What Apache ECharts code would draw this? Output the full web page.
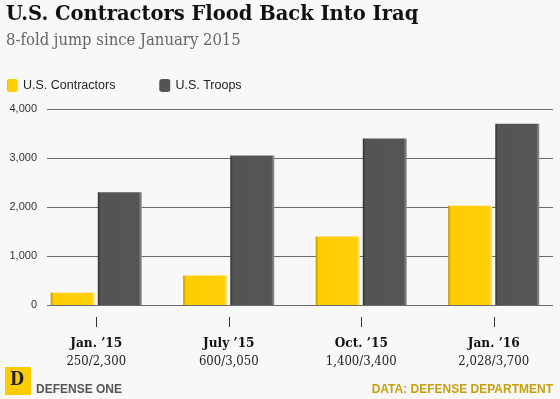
<!DOCTYPE html>
<html><head><meta charset="utf-8">
<script src="https://cdn.jsdelivr.net/npm/echarts@6/dist/echarts.min.js"></script>
<style>html,body{margin:0;padding:0;background:#f8f8f8}#c{width:560px;height:399px}</style>
</head><body><div id="c"></div>
<script>
const categories = ["Jan. ’15", "July ’15", "Oct. ’15", "Jan. ’16"];
const contractors = [250, 600, 1400, 2028];
const troops = [2300, 3050, 3400, 3700];
const pairLabels = ["250/2,300", "600/3,050", "1,400/3,400", "2,028/3,700"];
const yTicks = [0, 1000, 2000, 3000, 4000];

const serif = '"DejaVu Serif Condensed","DejaVu Serif",serif';
const serifWide = '"DejaVu Serif",serif';
const sans = '"Liberation Sans",Arial,sans-serif';
const chart = echarts.init(document.getElementById('c'), null, {renderer:'canvas'});
const yellowGrad = new echarts.graphic.LinearGradient(0,0,1,0,[
  {offset:0,color:'#b89200'},{offset:0.06,color:'#ffcc00'},{offset:0.93,color:'#ffcf0a'},{offset:1,color:'#ffe98a'}]);
const grayGrad = new echarts.graphic.LinearGradient(0,0,1,0,[
  {offset:0,color:'#2e2e2e'},{offset:0.06,color:'#545454'},{offset:0.93,color:'#555555'},{offset:1,color:'#9a9a9a'}]);
const fmt = v => v.toLocaleString('en-US');

chart.setOption({
  backgroundColor:'#f8f8f8',
  animation:false,
  title:{
    text:'U.S. Contractors Flood Back Into Iraq',
    subtext:'8-fold jump since January 2015',
    left:1, top:0, itemGap:7,
    textStyle:{fontFamily:serifWide, fontWeight:'bold', fontSize:19.5, color:'#111'},
    subtextStyle:{fontFamily:serif, fontSize:16.5, color:'#666'}
  },
  legend:{
    left:2, top:74, itemWidth:11, itemHeight:13, itemGap:44,
    data:[{name:'U.S. Contractors', itemStyle:{color:yellowGrad}}, {name:'U.S. Troops', itemStyle:{color:grayGrad}}],
    textStyle:{fontFamily:sans, fontSize:12.5, color:'#222'}
  },
  grid:[
    {left:47, right:7, top:109, height:196},
    {left:30, width:539, top:109, height:196}
  ],
  xAxis:[
    {gridIndex:0, type:'category', data:categories, show:false},
    {gridIndex:1, type:'category', data:categories, offset:12,
     axisLine:{show:false},
     axisTick:{show:false},
     axisLabel:{margin:17, interval:0,
       formatter:(v,i)=> '{a|'+v+'}\n{b|'+pairLabels[i]+'}',
       rich:{a:{fontFamily:serif, fontWeight:'bold', fontSize:13.5, color:'#111', lineHeight:18},
             b:{fontFamily:serif, fontSize:13, color:'#222', lineHeight:19}}}}
  ],
  yAxis:[
    {gridIndex:0, type:'value', min:yTicks[0], max:yTicks[yTicks.length-1], interval:1000,
     axisLine:{show:false}, axisTick:{show:false},
     axisLabel:{margin:10, fontFamily:sans, fontSize:11, color:'#333', formatter:fmt},
     splitLine:{lineStyle:{color:'#6a6a6a', width:1}}},
    {gridIndex:1, type:'value', min:yTicks[0], max:yTicks[yTicks.length-1], show:false, splitLine:{show:false}}
  ],
  series:[
    {name:'U.S. Contractors', type:'bar', xAxisIndex:1, yAxisIndex:1, data:contractors,
     barWidth:44, barGap:'7%', itemStyle:{color:yellowGrad}},
    {name:'U.S. Troops', type:'bar', xAxisIndex:1, yAxisIndex:1, data:troops,
     barWidth:44, barGap:'7%', itemStyle:{color:grayGrad}},
    {name:'ticks', type:'custom', xAxisIndex:1, yAxisIndex:1, silent:true, clip:false,
     data:categories.map((c,i)=>[i,0]),
     renderItem:(params, api)=>{
       const p = api.coord([api.value(0), api.value(1)]);
       const x = Math.round(p[0]) + 0.5;
       return {type:'line', shape:{x1:x, y1:p[1]+12, x2:x, y2:p[1]+22}, style:{stroke:'#333', lineWidth:1}};
     }}
  ],
  graphic:[
    {type:'rect', left:5, top:367, shape:{width:26, height:28}, style:{fill:'#ffcc00'}},
    {type:'text', left:10, top:371, style:{text:'D', font:'bold 18px '+serif, fill:'#222'}},
    {type:'text', left:36, top:384, style:{text:'DEFENSE ONE', font:'bold 12px '+sans, fill:'#555'}},
    {type:'text', right:7, top:384, style:{text:'DATA: DEFENSE DEPARTMENT', font:'bold 12px '+sans, fill:'#c7a010'}}
  ]
});
</script></body></html>
